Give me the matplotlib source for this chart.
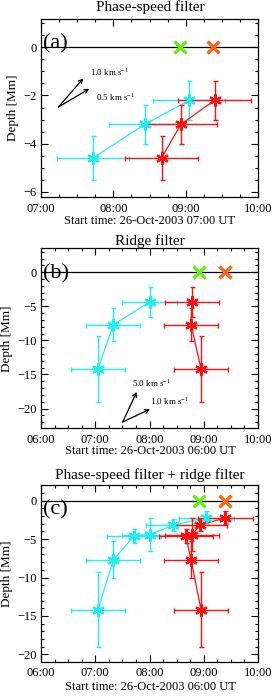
import matplotlib
matplotlib.use('Agg')
import matplotlib.pyplot as plt
from matplotlib.ticker import MultipleLocator, FuncFormatter

plt.rcParams['font.family'] = ['Liberation Serif', 'DejaVu Serif']
plt.rcParams['mathtext.fontset'] = 'custom'
plt.rcParams['mathtext.rm'] = 'Liberation Serif'

# --- data: arrival times (UT) and depths [Mm] ---
# phase-speed filter
ps_cyan_time = ['07:43', '08:26', '09:03']
ps_red_time = ['08:40', '08:56', '09:24']
ps_depth = [-4.6, -3.2, -2.2]
ps_depth_err = [0.9, 0.8, 0.8]

# ridge filter
rd_cyan_time = ['07:03', '07:20', '08:00']
rd_red_time = ['08:57', '08:46', '08:47']
rd_depth = [-14.2, -7.7, -4.4]
rd_depth_err = [4.9, 2.4, 2.2]

time_err_min = 30  # +/- minutes

# surface flare kernels
green_time = '08:55'
orange_time = '09:23'

panel_titles = ['Phase-speed filter', 'Ridge filter',
                'Phase-speed filter + ridge filter']
panel_tags = ['(a)', '(b)', '(c)']
xlabels = ['Start time: 26-Oct-2003 07:00 UT',
           'Start time: 26-Oct-2003 06:00 UT',
           'Start time: 26-Oct-2003 06:00 UT']


def hrs(t):
    h, m = t.split(':')
    return int(h) + int(m) / 60.0


def fmt_time(x, pos):
    h = int(round(x * 60)) // 60
    m = int(round(x * 60)) % 60
    return f'{h:02d}:{m:02d}'


CYAN = '#22EEEE'
RED = '#FF1010'
ast = (6, 2, 0)

fig = plt.figure(figsize=(2.74, 6.97), dpi=100)
W, H = 274.0, 697.0


def add_ax(top, bottom):
    return fig.add_axes([41 / W, 1 - bottom / H, 217 / W, (bottom - top) / H])


def draw_series(ax, times, depths, derr, color):
    t = [hrs(s) for s in times]
    order = sorted(range(len(depths)), key=lambda i: depths[i])
    ts = [t[i] for i in order]
    ds = [depths[i] for i in order]
    es = [derr[i] for i in order]
    ax.errorbar(ts, ds, xerr=time_err_min / 60.0, yerr=es, fmt='none',
                ecolor=color, elinewidth=1.0, capsize=1.8, capthick=1.0, zorder=3)
    ax.plot(ts, ds, color=color, lw=0.9, zorder=3)
    ax.plot(ts, ds, ls='none', marker=ast, ms=9, mew=1.6, color=color, zorder=4)


def style(ax, xlim, ylim, ymajor, yminor):
    ax.set_xlim(*xlim)
    ax.set_ylim(*ylim)
    ax.xaxis.set_major_locator(MultipleLocator(1))
    ax.xaxis.set_minor_locator(MultipleLocator(0.25))
    ax.xaxis.set_major_formatter(FuncFormatter(fmt_time))
    ax.yaxis.set_major_locator(MultipleLocator(ymajor))
    ax.yaxis.set_minor_locator(MultipleLocator(yminor))
    ax.tick_params(which='both', direction='in', top=True, right=True,
                   labelsize=9, width=0.8)
    ax.tick_params(which='major', length=5)
    ax.tick_params(which='minor', length=2.5)
    ax.tick_params(axis='x', pad=4)
    ax.tick_params(axis='y', pad=3)
    for s in ax.spines.values():
        s.set_linewidth(0.9)
    ax.set_ylabel('Depth [Mm]', fontsize=9.5, labelpad=3)
    ax.axhline(0, color='black', lw=0.9, zorder=2)
    ax.plot([hrs(green_time)], [0], marker='x', ms=9, mew=2.4,
            color='#66EE11', ls='none', zorder=5)
    ax.plot([hrs(orange_time)], [0], marker='x', ms=9, mew=2.4,
            color='#FF6611', ls='none', zorder=5)


def arrows(ax, start, tips, labels, label_pos):
    for tip, lab, lp in zip(tips, labels, label_pos):
        ax.annotate('', xy=tip, xytext=start,
                    arrowprops=dict(arrowstyle='->', lw=0.9, color='black',
                                    shrinkA=0, shrinkB=0,
                                    mutation_scale=7))
        ax.text(lp[0], lp[1], lab, fontsize=6.5, ha='left', va='center')


# ---- panel (a) ----
axa = add_ax(19, 197)
style(axa, (7, 10), (-6.22, 1.18), 2, 0.5)
draw_series(axa, ps_cyan_time, ps_depth, ps_depth_err, CYAN)
draw_series(axa, ps_red_time, ps_depth, ps_depth_err, RED)
arrows(axa, (7.24, -2.48), [(7.585, -1.29), (7.668, -1.72)],
       [r'1.0 km s$^{-1}$', r'0.5 km s$^{-1}$'],
       [(7.68, -1.02), (7.76, -2.07)])

# ---- panel (b) ----
axb = add_ax(248.3, 428.3)
style(axb, (6, 10), (-22.9, 3.5), 5, 1)
draw_series(axb, rd_cyan_time, rd_depth, rd_depth_err, CYAN)
draw_series(axb, rd_red_time, rd_depth, rd_depth_err, RED)
arrows(axb, (7.506, -21.97), [(7.764, -17.56), (8.009, -20.1)],
       [r'5.0 km s$^{-1}$', r'1.0 km s$^{-1}$'],
       [(7.68, -16.3), (8.0, -18.9)])

# ---- panel (c) ----
axc = add_ax(485, 661.7)
style(axc, (6, 10), (-20.96, 2.05), 5, 1)
draw_series(axc, rd_cyan_time + ps_cyan_time, rd_depth + ps_depth,
            rd_depth_err + ps_depth_err, CYAN)
draw_series(axc, rd_red_time + ps_red_time, rd_depth + ps_depth,
            rd_depth_err + ps_depth_err, RED)

axes = [axa, axb, axc]
title_y = [7, 241.5, 475.5]
xlab_y = [220.5, 451, 686.5]
for ax, ttl, tag, xl, ty, xy in zip(axes, panel_titles, panel_tags, xlabels, title_y, xlab_y):
    fig.text(150 / W, 1 - ty / H, ttl, fontsize=11, ha='center', va='center')
    fig.text(150 / W, 1 - xy / H, xl, fontsize=9, ha='center', va='center')
    ax.text(0.01, 0.86, tag, transform=ax.transAxes, fontsize=16,
            ha='left', va='center', zorder=6)

fig.savefig('out.png', dpi=100)
